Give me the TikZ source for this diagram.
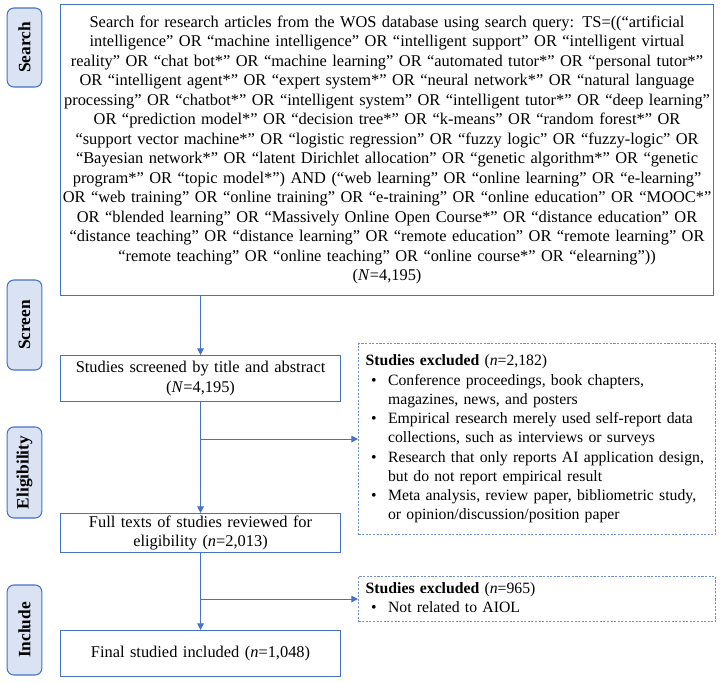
\documentclass[tikz,border=0pt]{standalone}
\usepackage{fontspec}
\setmainfont{Liberation Serif}
\usetikzlibrary{arrows.meta,positioning}

\definecolor{edgeblue}{HTML}{4472C4}
\definecolor{stagefill}{HTML}{DAE3F3}
\definecolor{dashblue}{HTML}{6F8FD0}

\tikzset{
  stage/.style={draw=edgeblue, fill=stagefill, rounded corners=5pt, line width=0.8pt,
    rotate=90, minimum height=26pt, inner sep=0pt, font=\fontsize{13}{15}\selectfont\bfseries},
  flowbox/.style={draw=edgeblue, line width=0.8pt, align=center, inner sep=0pt,
    font=\fontsize{12.3}{14.6}\selectfont},
  excludebox/.style={draw=dashblue, line width=0.8pt, dash pattern=on 1.6pt off 1.1pt,
    inner xsep=5pt, inner ysep=0pt, anchor=north west, minimum width=267.75pt,
    text width=257pt, font=\fontsize{11.8}{14.45}\selectfont},
  flowarrow/.style={draw=edgeblue, line width=0.8pt, -{Triangle[length=5pt,width=5pt]}},
}

\begin{document}
\begin{tikzpicture}[x=0.75pt, y=-0.75pt]

	\useasboundingbox (0,0) rectangle (720,682);

	% Stage labels
	\node[stage, minimum width=59.25pt] (lsearch) at (24.5,47.5) {Search};
	\node[stage, minimum width=67.5pt] (lscreen) at (24.5,325) {Screen};
	\node[stage, minimum width=68.25pt] (leligible) at (24.5,472.5) {Eligibility};
	\node[stage, minimum width=67.5pt] (linclude) at (24.5,630) {Include};

	% Flow boxes
	\node[flowbox, anchor=north west, minimum width=489.75pt, minimum height=218.25pt, text width=489pt] (search) at (60,4) {%
	Search for research articles from the WOS database using search query: TS=((“artificial\\
	intelligence” OR “machine intelligence” OR “intelligent support” OR “intelligent virtual\\
	reality” OR “chat bot*” OR “machine learning” OR “automated tutor*” OR “personal tutor*”\\
	OR “intelligent agent*” OR “expert system*” OR “neural network*” OR “natural language\\
	processing” OR “chatbot*” OR “intelligent system” OR “intelligent tutor*” OR “deep learning”\\
	OR “prediction model*” OR “decision tree*” OR “k-means” OR “random forest*” OR\\
	“support vector machine*” OR “logistic regression” OR “fuzzy logic” OR “fuzzy-logic” OR\\
	“Bayesian network*” OR “latent Dirichlet allocation” OR “genetic algorithm*” OR “genetic\\
	program*” OR “topic model*”) AND (“web learning” OR “online learning” OR “e-learning”\\
	OR “web training” OR “online training” OR “e-training” OR “online education” OR “MOOC*”\\
	OR “blended learning” OR “Massively Online Open Course*” OR “distance education” OR\\
	“distance teaching” OR “distance learning” OR “remote education” OR “remote learning” OR\\
	“remote teaching” OR “online teaching” OR “online course*” OR “elearning”))\\
	(\textit{N}=4,195)};

	\node[flowbox, anchor=north west, minimum width=210pt, minimum height=34.5pt, text width=205pt] (screened) at (60,355) {Studies screened by title and abstract\\(\textit{N}=4,195)};
	\node[flowbox, anchor=north west, minimum width=210pt, minimum height=29.25pt, text width=205pt] (fulltext) at (60,513) {Full texts of studies reviewed for\\eligibility (\textit{n}=2,013)};
	\node[flowbox, anchor=north west, minimum width=210pt, minimum height=34.5pt, text width=205pt] (final) at (60,630) {Final studied included (\textit{n}=1,048)};

	% Exclusion boxes
	\node[excludebox, minimum height=143.25pt] (exclude1) at (358,343) {\noindent%
	\begin{tabular}{@{\hspace*{4pt}}p{12.75pt}@{}l@{}}
	\multicolumn{2}{@{}l@{}}{\textbf{Studies excluded} (\textit{n}=2,182)}\\
	\textbullet & Conference proceedings, book chapters,\\
	            & magazines, news, and posters\\
	\textbullet & Empirical research merely used self-report data\\
	            & collections, such as interviews or surveys\\
	\textbullet & Research that only reports AI application design,\\
	            & but do not report empirical result\\
	\textbullet & Meta analysis, review paper, bibliometric study,\\
	            & or opinion/discussion/position paper
	\end{tabular}};
	\node[excludebox, minimum height=33.75pt] (exclude2) at (358,576) {\noindent%
	\begin{tabular}{@{\hspace*{4pt}}p{12.75pt}@{}l@{}}
	\multicolumn{2}{@{}l@{}}{\textbf{Studies excluded} (\textit{n}=965)}\\
	\textbullet & Not related to AIOL
	\end{tabular}};

	% Arrows
	\draw[flowarrow] (search.south -| screened.north) -- (screened.north);
	\draw[flowarrow] (screened.south) -- (fulltext.north);
	\draw[flowarrow] (screened.south |- exclude1.west) -- (exclude1.west);
	\draw[flowarrow] (fulltext.south) -- (final.north);
	\draw[flowarrow] (fulltext.south |- exclude2.west) -- (exclude2.west);

\end{tikzpicture}
\end{document}
